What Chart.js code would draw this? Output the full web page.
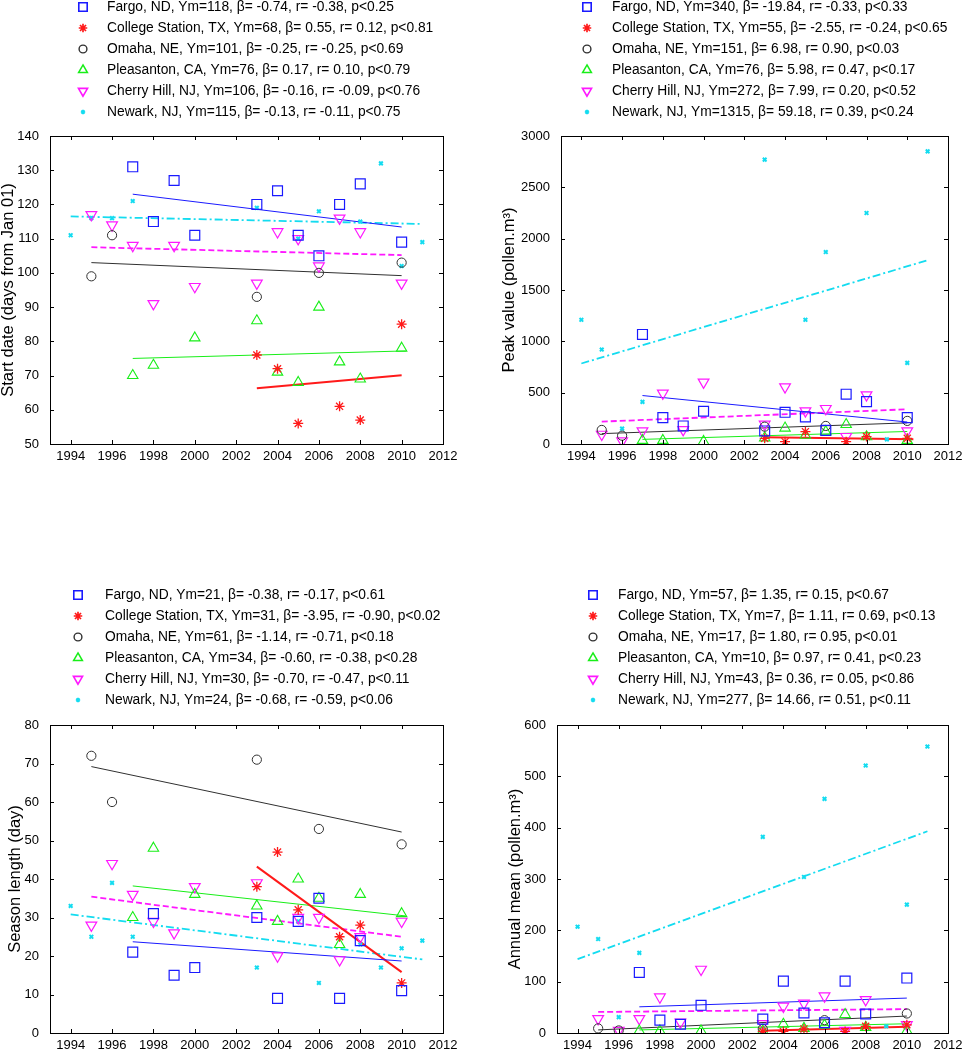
<!DOCTYPE html>
<html>
<head>
<meta charset="utf-8">
<script src="https://cdn.jsdelivr.net/npm/chart.js@4.4.1/dist/chart.umd.min.js"></script>
<style>
  html, body { margin: 0; padding: 0; background: #fff; }
  body { width: 965px; height: 1050px; position: relative; overflow: hidden; }
  canvas { position: absolute; }
</style>
</head>
<body>
<canvas id="c-start" width="460" height="475" style="left:0;top:0"></canvas>
<canvas id="c-peak" width="485" height="475" style="left:480px;top:0"></canvas>
<canvas id="c-season" width="460" height="490" style="left:0;top:560px"></canvas>
<canvas id="c-mean" width="485" height="490" style="left:480px;top:560px"></canvas>
<script>
// ── Years sampled per station ─────────────────────────────────
const fargoYears      = [1997,1998,1999,2000,2003,2004,2005,2006,2007,2008,2010];
const collegeYears    = [2003,2004,2005,2007,2008,2010];
const omahaYears      = [1995,1996,2003,2006,2010];
const pleasantonYears = [1997,1998,2000,2003,2004,2005,2006,2007,2008,2010];
const cherryYears     = [1995,1996,1997,1998,1999,2000,2003,2004,2005,2006,2007,2008,2010];
const newarkYears     = [1994,1995,1996,1997,2003,2005,2006,2008,2009,2010,2011];

const xTicks = [1994,1996,1998,2000,2002,2004,2006,2008,2010,2012];

// ── Start date (days from Jan 01) ─────────────────────────────
const startFargo      = [131,115,127,111,120,124,111,105,120,126,109];
const startCollege    = [76,72,56,61,57,85];
const startOmaha      = [99,111,93,100,103];
const startPleasanton = [70,73,81,86,71,68,90,74,69,78];
const startCherry     = [117,114,108,91,108,96,97,112,110,102,116,112,97];
const startNewark     = [111,116,116,121,119,110,118,115,132,102,109];
// fitted trend lines: [x0, y0, x1, y1]
const startFits = [[1997,123,2010,113.4],[2003,66.3,2010,70.1],[1995,103,2010,99.2],
                   [1997,75,2010.2,77.2],[1995,107.5,2010,105.2],[1994,116.5,2011,114.3]];
const startTicks = [50,60,70,80,90,100,110,120,130,140];
const startLabels = [
  'Fargo, ND, Ym=118, β= -0.74, r= -0.38, p<0.25',
  'College Station, TX, Ym=68, β= 0.55, r= 0.12, p<0.81',
  'Omaha, NE, Ym=101, β= -0.25, r= -0.25, p<0.69',
  'Pleasanton, CA, Ym=76, β= 0.17, r= 0.10, p<0.79',
  'Cherry Hill, NJ, Ym=106, β= -0.16, r= -0.09, p<0.76',
  'Newark, NJ, Ym=115, β= -0.13, r= -0.11, p<0.75'];

// ── Peak value (pollen.m3) ────────────────────────────────────
const peakFargo      = [1067,257,176,319,127,309,264,133,485,413,257];
const peakCollege    = [55,23,120,23,72,55];
const peakOmaha      = [137,81,169,176,225];
const peakPleasanton = [35,35,25,60,155,85,120,190,70,35];
const peakCherry     = [94,29,127,495,140,602,192,556,322,345,72,478,127];
const peakNewark     = [1210,920,150,410,2770,1210,1870,2250,45,790,2850];
const peakFits = [[1997,472,2010,214],[2003,65,2010.3,47],[1995,101,2010,206],
                  [1997,45,2010,122],[1995,218,2010,338],[1994,784,2011,1790]];
const peakTicks = [0,500,1000,1500,2000,2500,3000];
const peakLabels = [
  'Fargo, ND, Ym=340, β= -19.84, r= -0.33, p<0.33',
  'College Station, TX, Ym=55, β= -2.55, r= -0.24, p<0.65',
  'Omaha, NE, Ym=151, β= 6.98, r= 0.90, p<0.03',
  'Pleasanton, CA, Ym=76, β= 5.98, r= 0.47, p<0.17',
  'Cherry Hill, NJ, Ym=272, β= 7.99, r= 0.20, p<0.52',
  'Newark, NJ, Ym=1315, β= 59.18, r= 0.39, p<0.24'];

// ── Season length (day) ───────────────────────────────────────
const seasonFargo      = [21,31,15,17,30,9,29,35,9,24,11];
const seasonCollege    = [38,47,32,25,28,13];
const seasonOmaha      = [72,60,71,53,49];
const seasonPleasanton = [30,48,36,33,29,40,35,23,36,31];
const seasonCherry     = [28,44,36,29,26,38,39,20,30,30,19,25,29];
const seasonNewark     = [33,25,39,25,17,29,13,23,17,22,24];
const seasonFits = [[1997,23.7,2010,18.7],[2003,43.2,2010,15.8],[1995,69.2,2010,52.2],
                    [1997,38.2,2010.2,30.4],[1995,35.4,2010,25],[1994,30.8,2011,19.1]];
const seasonTicks = [0,10,20,30,40,50,60,70,80];
const seasonLabels = [
  'Fargo, ND, Ym=21, β= -0.38, r= -0.17, p<0.61',
  'College Station, TX, Ym=31, β= -3.95, r= -0.90, p<0.02',
  'Omaha, NE, Ym=61, β= -1.14, r= -0.71, p<0.18',
  'Pleasanton, CA, Ym=34, β= -0.60, r= -0.38, p<0.28',
  'Cherry Hill, NJ, Ym=30, β= -0.70, r= -0.47, p<0.11',
  'Newark, NJ, Ym=24, β= -0.68, r= -0.59, p<0.06'];

// ── Annual mean (pollen.m3) ───────────────────────────────────
const meanFargo      = [118,25,17,54,27,101,39,20,101,37,107];
const meanCollege    = [3,3,8,3,13,16];
const meanOmaha      = [9,5,8,25,38];
const meanPleasanton = [4,4,4,4,17,9,15,36,11,4];
const meanCherry     = [28,5,28,70,21,124,18,52,58,72,5,65,16];
const meanNewark     = [207,183,31,156,382,304,456,521,13,250,558];
const meanFits = [[1997,51,2010,68],[2003,4.5,2010,12.3],[1995,6,2010,33],
                  [1997,6,2010,18],[1995,41,2010,46.5],[1994,144,2011,393]];
const meanTicks = [0,100,200,300,400,500,600];
const meanLabels = [
  'Fargo, ND, Ym=57, β= 1.35, r= 0.15, p<0.67',
  'College Station, TX, Ym=7, β= 1.11, r= 0.69, p<0.13',
  'Omaha, NE, Ym=17, β= 1.80, r= 0.95, p<0.01',
  'Pleasanton, CA, Ym=10, β= 0.97, r= 0.41, p<0.23',
  'Cherry Hill, NJ, Ym=43, β= 0.36, r= 0.05, p<0.86',
  'Newark, NJ, Ym=277, β= 14.66, r= 0.51, p<0.11'];

// ── Styles ────────────────────────────────────────────────────
const FONT = 'Arial, "Liberation Sans", sans-serif';
const years = [fargoYears, collegeYears, omahaYears, pleasantonYears, cherryYears, newarkYears];
const marker = [
  { pointStyle:'rect',     radius:7,   rotation:0,   color:'#1a1aff', bw:1.2 },
  { pointStyle:'star',     radius:5,   rotation:0,   color:'#ff1a1a', bw:1.3 },
  { pointStyle:'circle',   radius:4.6, rotation:0,   color:'#303030', bw:1 },
  { pointStyle:'triangle', radius:6,   rotation:0,   color:'#18ee18', bw:1.1 },
  { pointStyle:'triangle', radius:6.2, rotation:180, color:'#ff18ff', bw:1.2 },
  { pointStyle:'crossRot', radius:2.6, rotation:0,   color:'#14dcf0', bw:2 },
];
const lineStyle = [
  { width:1,   dash:[] },
  { width:2,   dash:[] },
  { width:1,   dash:[] },
  { width:1,   dash:[] },
  { width:1.8, dash:[6,3] },
  { width:1.8, dash:[8,3,2,3] },
];

// ── Plugins ───────────────────────────────────────────────────
const frame = {
  id: 'frame',
  afterDatasetsDraw(chart) {
    const { ctx, chartArea: a, scales: { x, y } } = chart;
    ctx.save();
    ctx.strokeStyle = '#000'; ctx.lineWidth = 1;
    ctx.strokeRect(Math.round(a.left)+0.5, Math.round(a.top)+0.5, Math.round(a.right-a.left), Math.round(a.bottom-a.top));
    ctx.beginPath();
    x.ticks.forEach(t => {
      const px = Math.round(x.getPixelForValue(t.value)) + 0.5;
      ctx.moveTo(px, a.bottom); ctx.lineTo(px, a.bottom - 4);
      ctx.moveTo(px, a.top);    ctx.lineTo(px, a.top + 4);
    });
    y.ticks.forEach(t => {
      const py = Math.round(y.getPixelForValue(t.value)) + 0.5;
      ctx.moveTo(a.left, py);  ctx.lineTo(a.left + 4, py);
      ctx.moveTo(a.right, py); ctx.lineTo(a.right - 4, py);
    });
    ctx.stroke();
    ctx.restore();
  }
};

const rowLegend = {
  id: 'rowLegend',
  afterDraw(chart, args, opts) {
    const { ctx } = chart;
    ctx.save();
    chart.data.datasets.filter(d => d.legendText).forEach((d, i) => {
      const cy = opts.y0 + i * opts.dy;
      ctx.strokeStyle = d.borderColor;
      ctx.fillStyle = 'rgba(0,0,0,0)';
      ctx.lineWidth = d.borderWidth + 0.4;
      Chart.helpers.drawPoint(ctx, { pointStyle:d.pointStyle, radius:d.pointRadius * 0.85, rotation:d.rotation||0, borderWidth:d.borderWidth }, opts.mx, cy);
      ctx.fillStyle = '#000';
      ctx.font = '13.8px ' + FONT;
      ctx.textBaseline = 'middle';
      ctx.textAlign = 'left';
      ctx.fillText(d.legendText, opts.tx, cy);
    });
    ctx.restore();
  }
};

// ── Panels ────────────────────────────────────────────────────
function makePanel(id, p) {
  const datasets = [];
  p.series.forEach((vals, i) => {
    const m = marker[i];
    datasets.push({
      type: 'scatter', legendText: p.labels[i],
      data: years[i].map((yr, k) => ({ x: yr, y: vals[k] })),
      pointStyle: m.pointStyle, pointRadius: m.radius, rotation: m.rotation,
      pointRotation: m.rotation,
      borderColor: m.color, borderWidth: m.bw, pointBorderWidth: m.bw,
      backgroundColor: 'rgba(0,0,0,0)', pointBackgroundColor: 'rgba(0,0,0,0)',
    });
  });
  p.fits.forEach((f, i) => {
    datasets.push({
      type: 'line',
      data: [{ x: f[0], y: f[1] }, { x: f[2], y: f[3] }],
      borderColor: marker[i].color, borderWidth: lineStyle[i].width, borderDash: lineStyle[i].dash,
      pointRadius: 0, fill: false, tension: 0,
    });
  });
  return new Chart(document.getElementById(id), {
    type: 'scatter',
    data: { datasets },
    options: {
      responsive: false, animation: false, devicePixelRatio: 1,
      layout: { padding: { top: p.padTop, right: p.padRight, left: 0, bottom: 0 } },
      plugins: { legend: { display: false }, tooltip: { enabled: false },
                 rowLegend: p.legend },
      scales: {
        x: {
          type: 'linear', min: 1993, max: 2012,
          grid: { display: false }, border: { display: false },
          afterBuildTicks: s => { s.ticks = xTicks.map(v => ({ value: v })); },
          afterFit: s => { s.height = p.xAxisH; },
          ticks: { color: '#000', padding: p.xPad, maxRotation: 0, autoSkip: false,
                   callback: v => String(v), font: { family: FONT, size: 13 } },
        },
        y: {
          type: 'linear', min: p.ticks[0], max: p.ticks[p.ticks.length - 1],
          grid: { display: false }, border: { display: false },
          afterBuildTicks: s => { s.ticks = p.ticks.map(v => ({ value: v })); },
          afterFit: s => { s.width = p.yAxisW; },
          ticks: { color: '#000', padding: 3, callback: v => String(v), font: { family: FONT, size: 13 } },
          title: { display: true, text: p.title, color: '#000', padding: { top: p.titlePad, bottom: 0 },
                   font: { family: FONT, size: 16.5, lineHeight: 1 } },
        },
      },
    },
    plugins: [frame, rowLegend],
  });
}

makePanel('c-start', {
  series: [startFargo, startCollege, startOmaha, startPleasanton, startCherry, startNewark],
  fits: startFits, ticks: startTicks, labels: startLabels,
  title: 'Start date (days from Jan 01)',
  padTop: 136, padRight: 17, xAxisH: 31, xPad: -3, yAxisW: 50, titlePad: 0,
  legend: { mx: 83, tx: 107, y0: 7, dy: 21 },
});
makePanel('c-peak', {
  series: [peakFargo, peakCollege, peakOmaha, peakPleasanton, peakCherry, peakNewark],
  fits: peakFits, ticks: peakTicks, labels: peakLabels,
  title: 'Peak value (pollen.m³)',
  padTop: 136, padRight: 17, xAxisH: 31, xPad: -3, yAxisW: 81, titlePad: 21.5,
  legend: { mx: 107, tx: 132, y0: 7, dy: 21 },
});
makePanel('c-season', {
  series: [seasonFargo, seasonCollege, seasonOmaha, seasonPleasanton, seasonCherry, seasonNewark],
  fits: seasonFits, ticks: seasonTicks, labels: seasonLabels,
  title: 'Season length (day)',
  padTop: 165, padRight: 17, xAxisH: 17, xPad: -3, yAxisW: 50, titlePad: 7,
  legend: { mx: 78, tx: 105, y0: 35, dy: 21 },
});
makePanel('c-mean', {
  series: [meanFargo, meanCollege, meanOmaha, meanPleasanton, meanCherry, meanNewark],
  fits: meanFits, ticks: meanTicks, labels: meanLabels,
  title: 'Annual mean (pollen.m³)',
  padTop: 165, padRight: 17, xAxisH: 17, xPad: -3, yAxisW: 77, titlePad: 27,
  legend: { mx: 113, tx: 138, y0: 35, dy: 21 },
});
</script>
</body>
</html>
